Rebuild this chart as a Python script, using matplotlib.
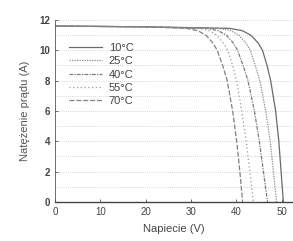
import matplotlib
matplotlib.use("Agg")
import matplotlib.pyplot as plt

plt.rcParams['font.family'] = ['Liberation Sans', 'DejaVu Sans']

# prąd (A) w punktach krzywych
current = [11.6, 11.55, 11.45, 11.3, 11.0, 10.5, 10.0, 9.0, 8.0, 6.0, 4.0, 2.0, 0.0]
# napięcie (V) dla każdej temperatury
v_10 = [0, 20, 38.5, 41.3, 43.2, 44.8, 45.8, 46.8, 47.6, 48.7, 49.4, 49.9, 50.4]
v_25 = [0, 20, 36.0, 38.8, 40.6, 42.1, 43.1, 44.2, 45.2, 46.5, 47.5, 48.2, 48.9]
v_40 = [0, 20, 33.5, 36.0, 37.8, 39.3, 40.3, 41.5, 42.6, 44.0, 45.1, 46.0, 46.9]
v_55 = [0, 20, 31.5, 34.0, 35.7, 37.1, 38.1, 39.2, 40.1, 41.2, 42.2, 43.0, 43.8]
v_70 = [0, 20, 29.0, 31.5, 33.3, 34.8, 35.8, 37.0, 38.0, 39.2, 40.1, 40.8, 41.4]
labels = ['10°C', '25°C', '40°C', '55°C', '70°C']
xticks = [0, 10, 20, 30, 40, 50]
yticks = [0, 2, 4, 6, 8, 10, 12]

fig = plt.figure(figsize=(2.93, 2.41), dpi=100)
ax = fig.add_axes([0.188, 0.162, 0.81, 0.755])

styles = ['-', (0, (1, 1)), (0, (3, 1, 1, 1)), (0, (1, 2)), (0, (4, 1.5))]
colors = ['#6a6a6a', '#8a8a8a', '#7a7a7a', '#9a9a9a', '#808080']
for v, lab, ls, c in zip([v_10, v_25, v_40, v_55, v_70], labels, styles, colors):
    ax.plot(v, current, ls=ls, color=c, lw=0.9, label=lab)

for y in range(1, 13):
    ax.axhline(y, color='#c8c8c8', lw=0.6, ls=(0, (1, 1.5)), zorder=0)

ax.set_xlim(0, 52.4)
ax.set_ylim(0, 12)
ax.set_xticks(xticks)
ax.set_yticks(yticks)
ax.tick_params(direction='in', length=2.5, width=0.6, labelsize=7,
               colors='#555555', labelcolor='#444444')
for t in ax.get_yticklabels():
    t.set_fontweight('bold')
ax.spines['top'].set_visible(False)
ax.spines['right'].set_visible(False)
ax.spines['left'].set_color('#555555')
ax.spines['bottom'].set_color('#444444')
ax.spines['bottom'].set_linewidth(1.0)
ax.spines['left'].set_linewidth(0.6)

ax.set_xlabel('Napiecie (V)', fontsize=8, color='#444444', labelpad=5)
ax.set_ylabel('Natężenie prądu (A)', fontsize=8, color='#555555', labelpad=7)

leg = ax.legend(loc='upper left', bbox_to_anchor=(0.03, 0.91), frameon=False,
                fontsize=8, handlelength=3.0, handletextpad=0.6,
                labelspacing=0.3, borderaxespad=0.2)
for t in leg.get_texts():
    t.set_color('#444444')

fig.savefig('out.png', dpi=100)
